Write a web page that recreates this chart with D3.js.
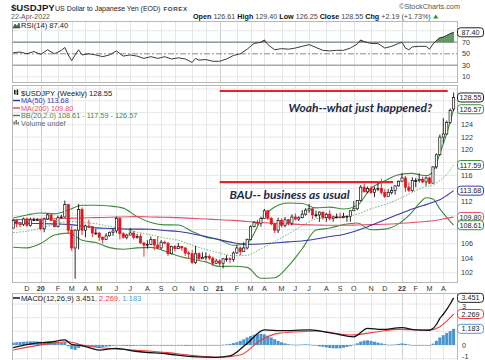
<!DOCTYPE html>
<html><head><meta charset="utf-8">
<script src="https://cdn.jsdelivr.net/npm/d3@7"></script>
<style>
html,body{margin:0;padding:0;background:#fff;}
svg{display:block;font-family:"Liberation Sans",Arial,sans-serif;}
</style></head><body>
<svg id="c" width="485" height="360"></svg>
<script>
// ---------------- DATA ----------------
const firstBar = "2019-11-08";   // weekly bars (Fridays)
const lastBar  = "2022-04-22";
const opens = [108.2,109.3,108.8,108.7,109.5,108.6,109.4,109.4,109.4,108.1,
109.5,110.1,109.3,108.4,109.7,109.8,111.6,107.9,105.4,107.9,
110.9,107.9,108.5,108.4,107.5,107.5,106.9,106.6,107.1,107.6,
107.8,109.6,107.4,106.9,107.2,107.5,106.9,107.0,106.1,105.8,
105.9,106.6,105.8,105.4,106.2,106.1,104.6,105.6,105.3,105.6,
105.4,104.7,104.6,103.4,104.6,103.9,104.1,104.2,104.0,103.3,
103.6,103.3,103.9,103.9,103.8,104.7,105.4,104.9,105.4,106.6,
108.4,109.0,108.9,109.6,110.7,109.6,108.8,107.9,109.3,108.6,
109.4,108.9,109.8,109.5,109.7,110.2,110.8,111.0,110.1,110.1,
110.5,109.7,110.2,109.6,109.8,109.8,109.7,109.9,109.9,110.7,
111.0,112.2,114.2,113.5,114.0,113.4,113.9,114.0,113.4,112.8,
113.4,113.7,114.4,115.1,115.6,114.2,113.7,115.2,115.2,115.4,
115.0,115.6,114.8,117.3,119.2,122.0,122.5,124.4,126.61];
const highs = [109.5,109.5,109.1,109.7,109.7,109.7,109.7,109.6,109.5,109.7,
110.3,110.2,109.4,110.0,110.1,112.2,111.7,108.5,108.0,111.7,
111.2,108.7,109.4,108.5,108.1,107.6,107.0,107.5,107.7,108.1,
109.85,109.7,107.6,107.4,108.2,107.8,107.4,107.4,106.2,106.5,
107.0,106.6,107.0,106.5,106.4,106.1,105.7,105.8,106.1,105.7,
105.5,105.0,105.1,105.7,104.8,104.8,104.8,104.5,104.2,103.9,
103.8,104.0,104.4,104.1,104.9,105.8,105.6,106.2,106.7,108.6,
109.2,109.4,109.85,110.97,110.8,109.8,108.9,109.7,109.6,109.8,
109.5,110.2,110.3,109.9,110.8,111.1,111.7,111.0,110.7,110.6,
110.6,110.4,110.8,110.0,110.3,110.4,110.4,110.0,110.8,112.1,
112.3,114.5,114.7,114.3,114.4,114.3,114.9,115.5,113.9,113.9,
114.3,114.5,115.2,116.35,115.9,114.9,115.7,115.6,116.3,115.8,
115.8,115.8,117.4,119.4,122.4,125.1,124.7,126.7,129.40];
const lows = [108.2,108.3,108.3,108.5,108.4,108.4,109.2,109.3,107.9,107.6,
109.4,109.2,108.3,108.3,109.6,109.7,107.5,105.0,101.2,105.2,
107.2,106.9,108.2,106.9,107.2,106.4,106.0,106.5,107.0,107.1,
107.5,106.6,106.7,106.6,107.2,106.6,106.7,106.0,104.2,105.3,
105.8,105.1,105.2,105.2,105.9,104.3,104.5,104.9,105.3,105.0,
104.3,104.0,103.2,103.2,103.7,103.9,103.7,103.7,102.9,103.2,
102.9,102.6,103.5,103.3,103.5,104.6,104.4,104.9,105.2,106.5,
108.3,108.6,108.4,109.6,109.4,108.6,107.5,107.5,108.3,108.3,
108.6,108.6,109.3,109.2,109.6,110.0,110.4,109.5,109.7,109.1,
109.4,109.1,109.3,109.1,109.6,109.6,109.6,109.1,109.1,110.7,
110.8,112.1,113.4,113.3,113.2,112.7,113.6,113.1,112.6,112.8,
113.1,113.1,114.3,115.0,113.5,113.5,113.5,114.2,114.9,114.8,
114.4,114.7,114.8,117.0,119.0,121.0,122.4,124.2,126.25];
const closes = [109.3,108.8,108.7,109.5,108.6,109.4,109.4,109.4,108.1,109.5,
110.1,109.3,108.4,109.7,109.8,111.6,107.9,105.4,107.9,110.9,
107.9,108.5,108.4,107.5,107.5,106.9,106.6,107.1,107.6,107.8,
109.6,107.4,106.9,107.2,107.5,106.9,107.0,106.1,105.8,105.9,
106.6,105.8,105.4,106.2,106.1,104.6,105.6,105.3,105.6,105.4,
104.7,104.6,103.4,104.6,103.9,104.1,104.2,104.0,103.3,103.6,
103.3,103.9,103.9,103.8,104.7,105.4,104.9,105.4,106.6,108.4,
109.0,108.9,109.6,110.7,109.6,108.8,107.9,109.3,108.6,109.4,
108.9,109.8,109.5,109.7,110.2,110.8,111.0,110.1,110.1,110.5,
109.7,110.2,109.6,109.8,109.8,109.7,109.9,109.9,110.7,111.0,
112.2,114.2,113.5,114.0,113.4,113.9,114.0,113.4,112.8,113.4,
113.7,114.4,115.1,115.6,114.2,113.7,115.2,115.2,115.4,115.0,
115.6,114.8,117.3,119.2,122.0,122.5,124.4,126.36,128.55];

// overlay samples (bar index -> value)
const indIdx = [0,4,8,12,16,20,24,28,32,36,40,44,48,52,56,60,64,68,72,76,80,84,88,92,96,100,104,108,112,116,118,120,122,124,126,128];
const ma50  = [109.0,108.9,108.85,108.8,108.73,108.5,108.23,108.15,108.07,108.05,108.03,107.85,107.72,107.4,107.0,106.55,106.13,105.9,105.95,106.1,106.25,106.38,106.65,107.0,107.3,107.85,108.59,109.4,110.2,110.96,111.3,111.6,111.95,112.32,112.95,113.68];
const ma200 = [109.4,109.45,109.5,109.55,109.6,109.65,109.7,109.75,109.8,109.85,109.8,109.75,109.7,109.6,109.5,109.4,109.3,109.15,109.0,108.9,108.8,108.7,108.65,108.6,108.6,108.65,108.7,108.75,108.85,109.0,109.07,109.15,109.25,109.4,109.6,109.8];
const bbMid = [107.57,107.75,108.2,108.73,109.14,109.0,108.83,108.43,108.15,107.63,107.24,106.82,106.47,105.79,105.2,104.69,104.33,104.39,105.28,106.29,107.39,108.53,109.52,109.72,109.83,110.21,111.0,111.61,112.44,113.42,113.92,114.29,114.5,115.2,116.15,117.59];
const bbUp  = [109.65,110.09,110.38,110.25,110.8,111.52,111.51,111.41,111.09,109.85,109.0,108.66,108.65,107.73,106.92,106.53,105.77,106.05,109.3,111.25,111.85,111.77,111.12,111.24,110.95,111.49,114.04,115.17,116.08,116.3,116.1,115.95,116.58,119.42,122.57,126.57];
const bbLo  = [105.49,105.41,106.02,107.21,107.48,106.48,106.15,105.45,105.21,105.41,105.48,104.98,104.29,103.85,103.48,102.85,102.89,102.73,101.26,101.33,102.93,105.29,107.92,108.2,108.71,108.93,107.96,108.05,108.8,110.54,111.74,112.63,112.42,110.98,109.73,108.61];

const rsiIdx = [0,2,4,6,8,10,12,14,15,16,17,18,19,20,22,24,26,28,30,32,34,36,38,40,42,44,46,48,50,52,53,54,56,58,60,62,64,66,68,70,72,73,74,76,78,80,82,84,86,88,90,92,94,96,98,100,101,102,104,106,107,108,110,112,113,114,115,116,118,120,121,122,123,124,125,126,127,128];
const rsiVal = [52,53,50,54,49,57,50,56,61,48,38,48,57,48,50,48,45,48,55,46,48,46,42,45,42,45,41,43,41,35,42,39,40,37,37,41,47,50,58,68,70,74,66,57,59,58,60,63,66,61,56,55,56,56,60,67,74,71,68,68,64,60,63,68,70,60,57,62,63,63,58,67,73,78,79,82,85,87.4];

const macdIdx = [0,6,11,15,17,20,25,30,35,45,52,59,63,68,73,78,86,93,99,103,107,113,117,121,122,123,124,125,126,127,128];
const macdVal = [-0.2,0.12,0.22,0.37,0.05,-0.05,-0.37,-0.24,-0.44,-0.66,-0.85,-0.9,-0.8,0.12,1.1,1.05,1.1,0.85,0.6,1.22,1.14,1.27,1.1,1.08,1.2,1.5,1.95,2.25,2.6,3.0,3.451];
const sigIdx = [0,11,16,20,27,35,45,52,60,66,72,77,83,88,98,106,112,121,124,126,127,128];
const sigVal = [-0.37,0.12,0.24,0,-0.24,-0.37,-0.56,-0.76,-0.9,-0.73,0.37,0.85,0.97,1.02,0.73,0.97,1.14,1.1,1.34,1.75,2.0,2.269];
const histVal = [0.17,0.2,0.22,0.24,0.26,0.27,0.27,0.26,0.24,0.22,0.23,0.22,0.2,0.18,0.17,0.2,
-0.1,-0.3,-0.36,-0.22,
-0.12,-0.1,-0.1,-0.12,-0.14,-0.15,-0.14,-0.12,-0.1,-0.06,-0.02,-0.04,-0.06,-0.07,-0.07,
-0.06,-0.05,-0.05,-0.06,-0.06,-0.05,-0.04,-0.04,-0.05,-0.05,-0.05,-0.05,-0.04,-0.04,-0.05,-0.06,-0.06,-0.05,-0.04,-0.03,-0.02,-0.02,-0.02,-0.01,-0.01,0,0.02,0.04,
0.08,0.14,0.2,0.3,0.42,0.55,0.66,0.75,0.8,0.82,0.78,0.68,0.55,0.42,0.3,0.2,0.12,
0.06,0.03,0.02,0.02,0.04,0.05,0.04,0,-0.05,-0.1,-0.14,-0.18,-0.22,-0.24,-0.25,-0.24,-0.2,-0.15,-0.08,
0.02,0.12,0.25,0.32,0.34,0.3,0.24,0.18,0.12,0.06,
0.02,0.02,0.04,0.08,0.12,0.08,0.03,-0.02,-0.04,-0.05,-0.04,-0.03,-0.02,
0.1,0.3,0.55,0.72,0.88,1.02,1.183];

// annotations
const lineFrom  = ["2021-01-01","2021-01-01"];
const lineTo    = ["2022-04-10","2021-12-20"];
const lineLevel = [129.66,114.98];
const noteText  = ["Woah--what just happened?","BAU-- business as usual"];
const noteDate  = ["2021-05-21","2021-01-21"];
const notePrice = [126.1,112.43];

const priceTicks = [102,104,106,108,110,112,114,116,118,120,122,124,126,128];
const rsiTicks = [10,30,50,70,90];
const macdTicks = [-1,0,1,2,3];
const monthLetters = ["J","F","M","A","M","J","J","A","S","O","N","D"];

// ---------------- LAYOUT ----------------
const svg = d3.select("#c");
const PL = 12, PR = 458;
const rsiT = 21, rsiB = 83, mT = 85, mB = 283, mcT = 293, mcB = 362;
const pd = d3.timeParse("%Y-%m-%d");
const dates = d3.timeFriday.range(pd(firstBar), d3.timeDay.offset(pd(lastBar),1)).slice(0, closes.length);
const x = d3.scaleTime().domain([dates[0], dates[dates.length-1]]).range([13.2, 453.6]);
const y = d3.scaleLog().domain([102,124]).range([272.8,124.8]);
const yr = d3.scaleLinear().domain([30,70]).range([65.3,42.3]);
const ym = d3.scaleLinear().domain([0,3]).range([345,304]);

const defs = svg.append("defs");
function clip(id,t,b){ defs.append("clipPath").attr("id",id).append("rect").attr("x",PL).attr("y",t).attr("width",PR-PL).attr("height",b-t); }
clip("cR",rsiT,rsiB); clip("cM",mT,mB); clip("cD",mcT,mcB);
defs.append("clipPath").attr("id","cR70").append("rect").attr("x",PL).attr("y",rsiT).attr("width",PR-PL).attr("height",yr(70)-rsiT);

// month positions
const months = [];
dates.forEach((d,i)=>{ if(i>0 && d.getMonth()!==dates[i-1].getMonth()) months.push({i, d}); });

// grids
const grid = svg.append("g");
[[rsiT,rsiB],[mT,mB],[mcT,mcB]].forEach(([t,b])=>{
  months.forEach(m=>{
    const xx = Math.round(x(m.d))+0.5;
    grid.append("line").attr("x1",xx).attr("x2",xx).attr("y1",t).attr("y2",b)
      .attr("stroke", m.d.getMonth()===0 ? "#cfcfcf" : "#e6e6e6").attr("stroke-width",1);
  });
});
d3.range(100,132,2).forEach(v=>{
  const yy = y(v); if(yy<mT||yy>mB) return;
  grid.append("line").attr("x1",PL).attr("x2",PR).attr("y1",yy).attr("y2",yy).attr("stroke","#e6e6e6");
});
[10,90].forEach(v=>grid.append("line").attr("x1",PL).attr("x2",PR).attr("y1",yr(v)).attr("y2",yr(v)).attr("stroke","#e6e6e6"));
macdTicks.forEach(v=>{ const yy=ym(v); if(yy>mcT&&yy<mcB) grid.append("line").attr("x1",PL).attr("x2",PR).attr("y1",yy).attr("y2",yy).attr("stroke","#e6e6e6"); });
[70,30].forEach(v=>grid.append("line").attr("x1",PL).attr("x2",PR).attr("y1",yr(v)).attr("y2",yr(v)).attr("stroke","#a8a8a8").attr("stroke-width",1.5));
grid.append("line").attr("x1",PL).attr("x2",PR).attr("y1",yr(50)).attr("y2",yr(50)).attr("stroke","#8a8a8a").attr("stroke-dasharray","6,2,2,2");

// panel borders
[[rsiT,rsiB],[mT,mB],[mcT,mcB]].forEach(([t,b])=>{
  svg.append("rect").attr("x",PL+0.5).attr("y",t+0.5).attr("width",PR-PL-1).attr("height",b-t-1).attr("fill","none").attr("stroke","#b8b8b8");
});

// ---------------- RSI ----------------
const rsiPts = rsiIdx.map((k,j)=>[dates[k], rsiVal[j]]);
const gR = svg.append("g").attr("clip-path","url(#cR)");
gR.append("g").attr("clip-path","url(#cR70)").append("path")
  .attr("d", d3.area().x(d=>x(d[0])).y0(yr(70)).y1(d=>yr(d[1]))(rsiPts))
  .attr("fill","#5f9c5f").attr("stroke","#2f6f2f").attr("stroke-width",0.6);
gR.append("path").attr("d", d3.line().x(d=>x(d[0])).y(d=>yr(d[1]))(rsiPts))
  .attr("fill","none").attr("stroke","#3a3a3a").attr("stroke-width",1);

// ---------------- PRICE ----------------
const gM = svg.append("g").attr("clip-path","url(#cM)");
const ln = (arr)=> d3.line().curve(d3.curveMonotoneX).x((d,j)=>x(dates[indIdx[j]])).y(d=>y(d))(arr);
gM.append("path").attr("d",ln(bbUp)).attr("fill","none").attr("stroke","#3c8c3c").attr("stroke-width",1.1);
gM.append("path").attr("d",ln(bbLo)).attr("fill","none").attr("stroke","#3c8c3c").attr("stroke-width",1.1);
gM.append("path").attr("d",ln(bbMid)).attr("fill","none").attr("stroke","#6fb56f").attr("stroke-width",1).attr("stroke-dasharray","1.5,1.5");
gM.append("path").attr("d",ln(ma200)).attr("fill","none").attr("stroke","#e2506a").attr("stroke-width",1.1);
gM.append("path").attr("d",ln(ma50)).attr("fill","none").attr("stroke","#3838a8").attr("stroke-width",1.1);

const cw = 2.2;
closes.forEach((c,i)=>{
  const o=opens[i], h=highs[i], l=lows[i];
  const prev = i>0 ? closes[i-1] : o;
  const col = c >= prev ? "#111" : "#e3161e";
  const cx = x(dates[i]);
  gM.append("line").attr("x1",cx).attr("x2",cx).attr("y1",y(h)).attr("y2",y(l)).attr("stroke",col).attr("stroke-width",0.9);
  const yt = y(Math.max(o,c)), yb = y(Math.min(o,c));
  gM.append("rect").attr("x",cx-cw/2).attr("y",yt).attr("width",cw).attr("height",Math.max(0.8,yb-yt))
    .attr("fill", c>o ? "#fff" : col).attr("stroke",col).attr("stroke-width",0.7);
});

// annotation lines and notes
lineLevel.forEach((v,k)=>{
  gM.append("line").attr("x1",x(pd(lineFrom[k]))).attr("x2",x(pd(lineTo[k])))
    .attr("y1",y(v)).attr("y2",y(v)).attr("stroke","#e8232a").attr("stroke-width",2.2);
});
noteText.forEach((t,k)=>{
  svg.append("text").attr("x",x(pd(noteDate[k]))).attr("y",y(notePrice[k]))
    .attr("font-family","Lato, 'Open Sans', sans-serif").attr("font-style","italic").attr("font-weight","bold")
    .attr("font-size",12).attr("fill","#1d2a48").text(t);
});

// legend (price)
const lg = svg.append("g").attr("font-size",7.3);
lg.append("rect").attr("x",14).attr("y",90).attr("width",1.6).attr("height",4.5).attr("fill","#222");
lg.append("rect").attr("x",16.6).attr("y",89.5).attr("width",1.6).attr("height",5.5).attr("fill","#222");
lg.append("text").attr("x",21).attr("y",95.5).attr("fill","#222").attr("font-size",7.6).text(`$USDJPY (Weekly) ${closes[closes.length-1].toFixed(2)}`);
const legRows = [
  ["#3838a8", `MA(50) ${ma50[ma50.length-1].toFixed(2)}`, 103],
  ["#e2506a", `MA(200) ${ma200[ma200.length-1].toFixed(2)}`, 110.5],
  ["#3c8c3c", `BB(20,2.0) ${bbLo[bbLo.length-1].toFixed(2)} - ${bbMid[bbMid.length-1].toFixed(2)} - ${bbUp[bbUp.length-1].toFixed(2)}`, 118]
];
legRows.forEach(([c,t,yy])=>{
  lg.append("line").attr("x1",13).attr("x2",20).attr("y1",yy-2.5).attr("y2",yy-2.5).attr("stroke",c).attr("stroke-width",1.5);
  lg.append("text").attr("x",21).attr("y",yy).attr("fill",c).text(t);
});
[[13.5,3],[15.5,4.5],[17.5,2.5]].forEach(([xx,hh])=>lg.append("rect").attr("x",xx).attr("y",124.5-hh).attr("width",1.5).attr("height",hh).attr("fill","#777"));
lg.append("text").attr("x",21).attr("y",125.5).attr("fill","#666").text("Volume undef");

// ---------------- MACD ----------------
const gD = svg.append("g").attr("clip-path","url(#cD)");
histVal.forEach((v,i)=>{
  const cx = x(dates[i]);
  gD.append("rect").attr("x",cx-1.5).attr("width",3).attr("y",Math.min(ym(v),ym(0))).attr("height",Math.max(0.6,Math.abs(ym(v)-ym(0))))
    .attr("fill","#4a95cf");
});
const lnI = (idx,val)=> d3.line().curve(d3.curveMonotoneX).x((d,j)=>x(dates[idx[j]])).y(d=>ym(d))(val);
gD.append("path").attr("d",lnI(sigIdx,sigVal)).attr("fill","none").attr("stroke","#f03c3c").attr("stroke-width",1.1);
gD.append("path").attr("d",lnI(macdIdx,macdVal)).attr("fill","none").attr("stroke","#111").attr("stroke-width",1.3);

const ml = svg.append("text").attr("x",21).attr("y",300.5).attr("font-size",7.6);
svg.append("line").attr("x1",13).attr("x2",20).attr("y1",298).attr("y2",298).attr("stroke","#111").attr("stroke-width",1.5);
ml.append("tspan").attr("fill","#222").text(`MACD(12,26,9) ${macdVal[macdVal.length-1].toFixed(3)}`);
ml.append("tspan").attr("fill","#f03c3c").text(`, ${sigVal[sigVal.length-1].toFixed(3)}`);
ml.append("tspan").attr("fill","#4a9fd8").text(`, ${histVal[histVal.length-1].toFixed(3)}`);

// RSI legend
svg.append("path").attr("d","M13,28 L15,24 L17,26.5 L19,23 L20,28 Z").attr("fill","#3c7a3c").attr("stroke","#222").attr("stroke-width",0.5);
svg.append("text").attr("x",21).attr("y",28).attr("font-size",7.6).attr("fill","#222").text(`RSI(14) ${rsiVal[rsiVal.length-1].toFixed(2)}`);

// ---------------- AXES LABELS + TAGS ----------------
const tags = [
  [yr(rsiVal[rsiVal.length-1]), rsiVal[rsiVal.length-1].toFixed(2), "#222", "r"],
  [y(closes[closes.length-1]), closes[closes.length-1].toFixed(2), "#222", "m"],
  [y(bbUp[bbUp.length-1]), bbUp[bbUp.length-1].toFixed(2), "#3c8c3c", "m"],
  [y(bbMid[bbMid.length-1]), bbMid[bbMid.length-1].toFixed(2), "#3c8c3c", "m"],
  [y(ma50[ma50.length-1]), ma50[ma50.length-1].toFixed(2), "#3838a8", "m"],
  [y(ma200[ma200.length-1]), ma200[ma200.length-1].toFixed(2), "#e2506a", "m"],
  [y(bbLo[bbLo.length-1]), bbLo[bbLo.length-1].toFixed(2), "#3c8c3c", "m"],
  [ym(macdVal[macdVal.length-1]), macdVal[macdVal.length-1].toFixed(3), "#222", "d"],
  [ym(sigVal[sigVal.length-1]), sigVal[sigVal.length-1].toFixed(3), "#f03c3c", "d"],
  [ym(histVal[histVal.length-1]), histVal[histVal.length-1].toFixed(3), "#4a9fd8", "d"]
];
const covered = (yy, p)=> tags.some(t=> t[3]===p && Math.abs(t[0]-yy) < 6);
// baseline for a tick label, nudged below a nearby tag so it stays readable
const tickBase = (yy, p)=>{
  const near = tags.find(t=> t[3]===p && yy > t[0] && yy - t[0] < 9);
  return near ? near[0] + 4.5 + 6.4 : yy + 2.5;
};

const ax = svg.append("g").attr("font-size",7.2).attr("fill","#333");
months.forEach(m=>{
  const jan = m.d.getMonth()===0;
  ax.append("text").attr("x",x(m.d)).attr("y",290.8).attr("text-anchor","middle")
    .attr("font-weight", jan ? "bold" : "normal")
    .text(jan ? d3.timeFormat("%y")(m.d) : monthLetters[m.d.getMonth()]);
});
priceTicks.forEach(v=>{ if(!covered(y(v),"m")) ax.append("text").attr("x",461).attr("y",y(v)+2.5).text(v); });
rsiTicks.forEach(v=>{ if(!covered(yr(v),"r")) ax.append("text").attr("x",462).attr("y",yr(v)+2.5).text(v); });
macdTicks.forEach(v=>{ if(!covered(ym(v),"d")) ax.append("text").attr("x",462).attr("y",Math.min(tickBase(ym(v),"d"),359.3)).text(v); });

tags.forEach(([yy,t,c])=>{
  svg.append("rect").attr("x",457.5).attr("y",yy-4.5).attr("width",26).attr("height",9).attr("rx",3)
    .attr("fill","#fff").attr("stroke",c).attr("stroke-width",1);
  svg.append("text").attr("x",470.5).attr("y",yy+2.6).attr("text-anchor","middle").attr("font-size",7.2).attr("fill","#222").text(t);
});

// ---------------- HEADER ----------------
svg.append("text").attr("x",11).attr("y",10.5).attr("font-size",9.6).attr("font-weight","bold").attr("fill","#1a1a1a").text("$USDJPY");
const desc = svg.append("text").attr("x",55).attr("y",10.5).attr("font-size",7).attr("fill","#222").text("US Dollar to Japanese Yen (EOD)");
const dw = desc.node().getComputedTextLength();
svg.append("text").attr("x",55+dw+3).attr("y",10.5).attr("font-size",6.2).attr("font-weight","bold").attr("letter-spacing",0.6).attr("fill","#444").text("FOREX");
svg.append("text").attr("x",11).attr("y",18.5).attr("font-size",7).attr("fill","#555").text("22-Apr-2022");
svg.append("text").attr("x",460).attr("y",8.5).attr("text-anchor","end").attr("font-size",7.3).attr("fill","#555").text("\u00A9StockCharts.com");
const n = closes.length-1;
const chg = closes[n]-closes[n-1];
const hd = svg.append("text").attr("x",193).attr("y",19).attr("font-size",7.2).attr("fill","#333");
[["Open ",1],[opens[n].toFixed(2)+" ",0],["High ",1],[highs[n].toFixed(2)+" ",0],["Low ",1],[lows[n].toFixed(2)+" ",0],
 ["Close ",1],[closes[n].toFixed(2)+" ",0],["Chg ",1],[`+${chg.toFixed(2)} (+${(chg/closes[n-1]*100).toFixed(2)}%)`,0]]
 .forEach(([t,b])=> hd.append("tspan").attr("font-weight",b?"bold":"normal").attr("fill",b?"#111":"#444").text(t));
const hw = hd.node().getComputedTextLength();
const tx = 193+hw+2.5;
svg.append("path").attr("d",`M${tx},18.5 L${tx+5},18.5 L${tx+2.5},14.5 Z`).attr("fill","#2e8b2e");
</script>
</body></html>
